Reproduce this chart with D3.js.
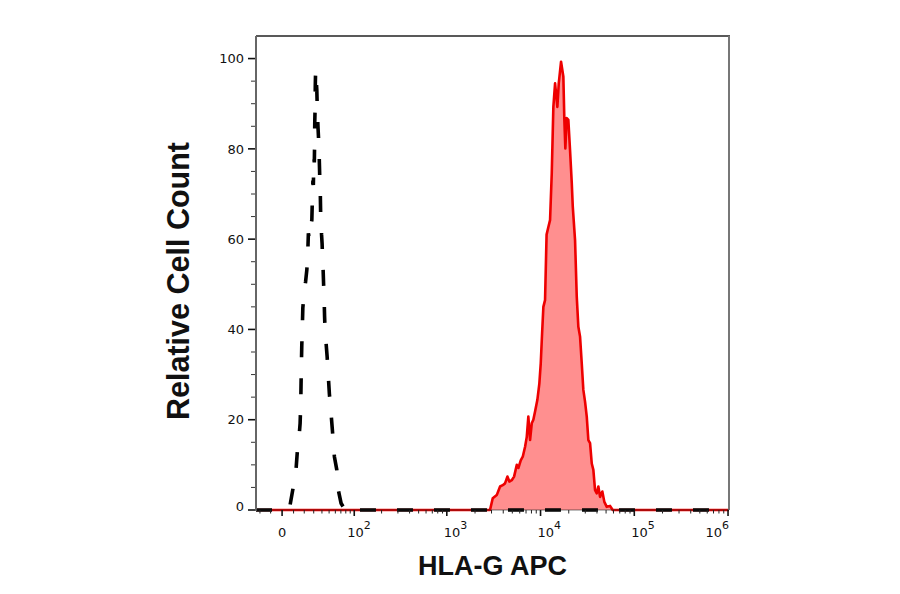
<!DOCTYPE html>
<html>
<head>
<meta charset="utf-8">
<script src="https://cdn.jsdelivr.net/npm/d3@7"></script>
<style>
  html, body { margin: 0; padding: 0; background: #fff; }
  svg { display: block; }
</style>
</head>
<body>
<svg id="chart" width="900" height="594"></svg>
<script>
// ---------------- data ----------------
// Isotype control (black dashed): [fluorescence, relative count]
const controlHist = [
  [-24, 0], [3.4, 0], [6.9, 1.1], [9.8, 5.2], [12.3, 9.2], [13.5, 13.3], [14.8, 15.5],
  [15.5, 17.7], [16.0, 19.2], [16.6, 23.6], [16.9, 28], [17.2, 32.1], [17.6, 36.5],
  [18.1, 40.2], [18.6, 44.7], [19.8, 48], [21.3, 50.5], [22.6, 53.2], [23.4, 56],
  [24.2, 61.3], [25.5, 60], [26.6, 63], [27.9, 64.2], [28.5, 69], [29.1, 73], [29.6, 72],
  [30.2, 78], [30.7, 77], [31.0, 81], [31.2, 86], [31.6, 89], [31.8, 94], [32.2, 97.5],
  [32.7, 96], [33.6, 93], [34.3, 88], [35.1, 84.5], [35.8, 82], [36.4, 79], [37.0, 75],
  [37.4, 72], [37.9, 70], [38.3, 66], [38.9, 64], [39.5, 61], [40.2, 59], [40.8, 56],
  [41.6, 53], [42.2, 50], [42.9, 47], [43.5, 43], [44.2, 40], [45.6, 37], [47.1, 34],
  [48.9, 29.5], [50.4, 25.8], [53.0, 21.4], [55.1, 17.7], [58.4, 11.8], [62.5, 8.9],
  [65.3, 4.4], [70.4, 1.5], [78.5, 0], [90, 0], [94.5, 0.6], [102, 0.3], [110, 0],
  [1.024e6, 0]
];
// HLA-G APC stained (red filled): [fluorescence, relative count]
const stainedHist = [
  [-24, 0], [2890, 0], [3090, 2.6], [3410, 3.3], [3700, 5.2], [3950, 5.5], [4180, 5.9],
  [4430, 7.4], [4650, 6.3], [4930, 6.6], [5220, 7.4], [5580, 10], [5800, 9.3], [6150, 11],
  [6460, 11.8], [6840, 14], [7130, 16.2], [7410, 20.7], [7730, 15.5], [8060, 19.2],
  [8380, 20], [8740, 21.8], [9250, 24.4], [9710, 28], [10050, 32.5], [10380, 39],
  [10720, 45], [11170, 46.5], [11600, 61], [12120, 62.7], [12630, 64.2], [13170, 74.6],
  [13700, 89.3], [14290, 94.5], [15110, 89.3], [15640, 94.5], [16550, 99.3], [17510, 96],
  [17950, 86.4], [18390, 80.1], [19030, 86.8], [19800, 86.4], [20640, 79.7], [21530, 72.4],
  [22070, 67.2], [23340, 59.8], [24340, 47.2], [25310, 40.6], [26390, 38.4], [27510, 32.5],
  [28610, 26.6], [29830, 24], [31110, 20.7], [32360, 15.5], [33740, 14.8], [35180, 10.3],
  [36590, 8.9], [38150, 4.4], [39780, 3.7], [41370, 5.2], [43130, 2.9], [45620, 4.1],
  [47930, 1.8], [50850, 0.7], [55120, 0.9], [58900, 0], [1.024e6, 0]
];
const xDomain = [-24, 1.024e6];
const yDomain = [0, 105];
const xMajorTicks = [0, 1e2, 1e3, 1e4, 1e5, 1e6];
const xMajorExp = [null, 2, 3, 4, 5, 6];
const xMinorTicks = [-20, -10, 10, 20, 30, 40, 50, 60, 70, 80, 90,
  200, 300, 400, 500, 600, 700, 800, 900,
  2000, 3000, 4000, 5000, 6000, 7000, 8000, 9000,
  20000, 30000, 40000, 50000, 60000, 70000, 80000, 90000,
  200000, 300000, 400000, 500000, 600000, 700000, 800000, 900000];
const yMajorTicks = [0, 20, 40, 60, 80, 100];
const yMinorTicks = [5, 10, 15, 25, 30, 35, 45, 50, 55, 65, 70, 75, 85, 90, 95];
const xTitle = "HLA-G APC";
const yTitle = "Relative Cell Count";

// ---------------- layout ----------------
const W = 900, H = 594;
const m = { left: 256, right: 171, top: 36, bottom: 84 };
const plotR = W - m.right, plotB = H - m.bottom;

// biexponential-like display transform (arcsinh, cofactor 35)
const C = 35;
const tf = v => Math.asinh(v / C);
const xT = d3.scaleLinear().domain(xDomain.map(tf)).range([m.left, plotR]);
const x = v => xT(tf(v));
const y = d3.scaleLinear().domain(yDomain).range([plotB, m.top]);

const svg = d3.select("#chart");
const tickFont = "'DejaVu Sans', Verdana, sans-serif";
const titleFont = "'Liberation Sans', Arial, sans-serif";

// ---------------- histograms ----------------
const area = d3.area().x(d => x(d[0])).y0(y(0)).y1(d => y(d[1]));
const line = d3.line().x(d => x(d[0])).y(d => y(d[1]));

svg.append("clipPath").attr("id", "clip")
  .append("rect").attr("x", m.left).attr("y", m.top - 2)
  .attr("width", plotR - m.left).attr("height", plotB - m.top + 4);

const g = svg.append("g").attr("clip-path", "url(#clip)");
g.append("path").datum(stainedHist).attr("d", area)
  .attr("fill", "#ff8f8f").attr("stroke", "none");
g.append("path").datum(stainedHist).attr("d", line)
  .attr("fill", "none").attr("stroke", "#ee0000").attr("stroke-width", 2.6)
  .attr("stroke-linejoin", "round");
g.append("path").datum(controlHist).attr("d", line)
  .attr("fill", "none").attr("stroke", "#000").attr("stroke-width", 3.6)
  .attr("stroke-dasharray", "16,21");

// ---------------- frame ----------------
svg.append("line").attr("x1", m.left).attr("x2", plotR + 1).attr("y1", m.top).attr("y2", m.top)
  .attr("stroke", "#222").attr("stroke-width", 1.5);
svg.append("line").attr("x1", plotR).attr("x2", plotR).attr("y1", m.top).attr("y2", plotB)
  .attr("stroke", "#777").attr("stroke-width", 2);
svg.append("line").attr("x1", m.left).attr("x2", m.left).attr("y1", m.top).attr("y2", plotB + 1)
  .attr("stroke", "#666").attr("stroke-width", 2);
svg.append("line").attr("x1", m.left).attr("x2", plotR).attr("y1", plotB).attr("y2", plotB)
  .attr("stroke", "#222").attr("stroke-width", 1.2).attr("opacity", 0.6);

// ---------------- y axis ----------------
const yAxis = svg.append("g").attr("transform", `translate(${m.left - 1},0)`);
yAxis.selectAll("line.maj").data(yMajorTicks).join("line")
  .attr("x1", -7).attr("x2", 0).attr("y1", d => y(d)).attr("y2", d => y(d))
  .attr("stroke", "#111").attr("stroke-width", 1.6);
yAxis.selectAll("line.min").data(yMinorTicks).join("line")
  .attr("x1", -4).attr("x2", 0).attr("y1", d => y(d)).attr("y2", d => y(d))
  .attr("stroke", "#333").attr("stroke-width", 1);
yAxis.selectAll("text").data(yMajorTicks).join("text")
  .attr("x", -11).attr("y", d => y(d) - (d === 0 ? 4 : 0))
  .attr("dy", "0.36em").attr("text-anchor", "end")
  .style("font-family", tickFont).style("font-size", "13px").attr("fill", "#111")
  .text(d => d);

// ---------------- x axis ----------------
const xAxis = svg.append("g").attr("transform", `translate(0,${plotB})`);
xAxis.selectAll("line.min").data(xMinorTicks).join("line")
  .attr("x1", d => x(d)).attr("x2", d => x(d)).attr("y1", 0).attr("y2", 3.5)
  .attr("stroke", "#222").attr("stroke-width", 1);
xAxis.selectAll("line.maj").data(xMajorTicks).join("line")
  .attr("x1", d => x(d)).attr("x2", d => x(d)).attr("y1", 0).attr("y2", 6)
  .attr("stroke", "#111").attr("stroke-width", 1.6);

const lbl = xAxis.selectAll("text").data(xMajorTicks).join("text")
  .attr("y", 27)
  .style("font-family", tickFont).style("font-size", "13px").attr("fill", "#111");
lbl.each(function(d, i) {
  const t = d3.select(this);
  const e = xMajorExp[i];
  if (e === null) {
    t.attr("x", x(d)).attr("text-anchor", "middle").text("0");
  } else {
    const last = i === xMajorTicks.length - 1;
    const first = i === 1;
    t.attr("x", last ? x(d) + 1 : x(d) - (first ? 7 : 3))
     .attr("text-anchor", last ? "end" : "start");
    t.append("tspan").text("10");
    t.append("tspan").attr("dy", -8).style("font-size", "11px").text(e);
  }
});

// ---------------- titles ----------------
svg.append("text").attr("x", 492.5).attr("y", 575).attr("text-anchor", "middle")
  .style("font-family", titleFont).style("font-weight", "bold").style("font-size", "27px")
  .attr("fill", "#111").text(xTitle);
svg.append("text").attr("transform", "translate(189,281) rotate(-90)")
  .attr("text-anchor", "middle")
  .style("font-family", titleFont).style("font-weight", "bold").style("font-size", "30.5px")
  .attr("fill", "#111").text(yTitle);
</script>
</body>
</html>
